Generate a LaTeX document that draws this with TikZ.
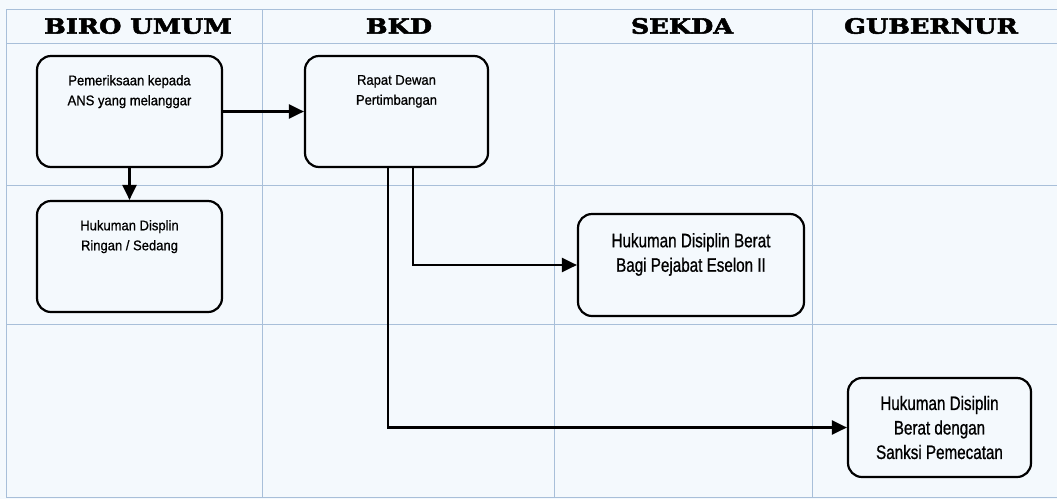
\documentclass[tikz,border=0pt]{standalone}
\usepackage{fontspec}
\usepackage{xcolor}
\usepackage{tikz}
\usetikzlibrary{arrows.meta, positioning}
\definecolor{laneBg}{HTML}{F4F9FD}
\definecolor{laneGrid}{HTML}{A8BFD9}
\newfontfamily\headfont[BoldFeatures={FakeStretch=1.22, FakeBold=2.5}]{DejaVu Serif}
\newfontfamily\smallfont[FakeStretch=0.93, FakeBold=0.8]{Liberation Sans}
\newfontfamily\largefont[FakeStretch=0.78, FakeBold=0.8]{Liberation Sans}

\begin{document}
\begin{tikzpicture}[
  x=1pt, y=-1pt,
  grid/.style={draw=laneGrid, line width=0.8pt},
  head/.style={inner sep=0pt, font=\headfont\bfseries\fontsize{21}{24}\selectfont},
  box/.style={draw, line width=2.2pt, rounded corners=14pt},
  txt/.style={inner sep=0pt, align=center, font=\smallfont\fontsize{14}{20}\selectfont},
  bigtxt/.style={inner sep=0pt, align=center, font=\largefont\fontsize{19.5}{24.5}\selectfont},
  arr/.style={-{Triangle[length=15pt, width=14pt]}, line width=2.2pt}
]
\fill[laneBg] (0,0) rectangle (1057,499);
\useasboundingbox (0,0) rectangle (1057,499);

% swimlane grid
\foreach \gx in {6,262,554,812}
  \draw[grid] (\gx,9) -- (\gx,497);
\foreach \gy in {9,43,185,324,497}
  \draw[grid] (6,\gy) -- (1057,\gy);

\node[head] (hbiro) at (138,26) {BIRO UMUM};
\node[head] (hbkd) at (399,26) {BKD};
\node[head] (hsekda) at (682,26) {SEKDA};
\node[head] (hgub) at (931,26) {GUBERNUR};

% process boxes
\node[box, minimum width=185pt, minimum height=111pt] (exam) at (129.5,111.5) {};
\node[txt, below=20pt of exam.north] (examtxt) {Pemeriksaan kepada\\ANS yang melanggar};
\node[box, minimum width=183pt, minimum height=111pt] (rapat) at (396.5,111.5) {};
\node[txt, below=20pt of rapat.north] (rapattxt) {Rapat Dewan\\Pertimbangan};
\node[box, minimum width=185pt, minimum height=111pt] (ringan) at (129.5,256.5) {};
\node[txt, below=20pt of ringan.north] (ringantxt) {Hukuman Displin\\Ringan / Sedang};
\node[box, minimum width=226pt, minimum height=102pt] (eselon) at (691,265) {};
\node[bigtxt, below=20pt of eselon.north] (eselontxt) {Hukuman Disiplin Berat\\Bagi Pejabat Eselon II};
\node[box, bigtxt, minimum width=183pt, minimum height=99pt] (pecat) at (939.5,427.5) {Hukuman Disiplin\\Berat dengan\\Sanksi Pemecatan};

\draw[arr] (exam.east) -- (rapat.west);
\draw[arr] (exam.south) -- (ringan.north);
\draw[arr] ([xshift=16.5pt]rapat.south) |- (eselon.west);
\draw[arr] ([xshift=-8.5pt]rapat.south) |- (pecat.west);
\end{tikzpicture}
\end{document}
